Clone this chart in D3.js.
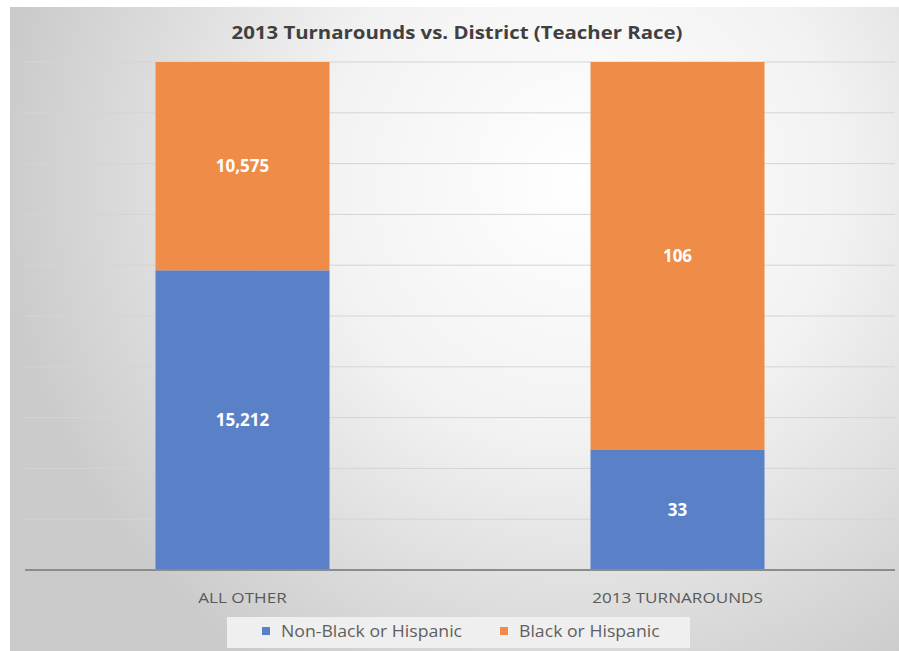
<!DOCTYPE html>
<html><head><meta charset="utf-8">
<script src="https://cdn.jsdelivr.net/npm/d3@7"></script>
<style>body{margin:0;background:#fff}svg{display:block}</style>
</head><body><svg id="c" width="899" height="651"></svg>
<script>
const title = "2013 Turnarounds vs. District (Teacher Race)";
const categories = ["ALL OTHER", "2013 TURNAROUNDS"];
const seriesNames = ["Non-Black or Hispanic", "Black or Hispanic"];
const nonBlackHispanic = [15212, 33];
const blackHispanic = [10575, 106];
const gridTicks = [0, 0.1, 0.2, 0.3, 0.4, 0.5, 0.6, 0.7, 0.8, 0.9, 1];
const colors = ["#5A80C8", "#EE8C48"];

const svg = d3.select("#c");
const defs = svg.append("defs");
const rg = defs.append("radialGradient").attr("id","bg")
  .attr("gradientUnits","userSpaceOnUse").attr("cx",580).attr("cy",180).attr("r",580);
rg.append("stop").attr("offset","0").attr("stop-color","#ffffff");
rg.append("stop").attr("offset","0.45").attr("stop-color","#f2f2f2");
rg.append("stop").attr("offset","1").attr("stop-color","#cbcbcb");

svg.append("rect").attr("x",10).attr("y",7).attr("width",889).attr("height",644).attr("fill","url(#bg)");

const font = "'Open Sans', Lato, sans-serif";
svg.append("text").attr("x",457).attr("y",39).attr("text-anchor","middle")
  .attr("font-family",font).attr("font-weight","bold").attr("font-size",18)
  .attr("textLength",451).attr("lengthAdjust","spacingAndGlyphs")
  .attr("fill","#404040").text(title);

const plot = {x0:25, x1:895, y0:62, y1:570};
const x = d3.scaleBand().domain(categories).range([plot.x0, plot.x1]).paddingInner(0.6).paddingOuter(0.3);
const y = d3.scaleLinear().domain([0,1]).range([plot.y1, plot.y0]);

svg.append("g").selectAll("line").data(gridTicks.slice(1)).join("line")
  .attr("x1",plot.x0).attr("x2",plot.x1).attr("y1",d=>y(d)).attr("y2",d=>y(d))
  .attr("stroke","#d4d4d4").attr("stroke-width",1);

const rows = categories.map((c,i)=>({cat:c, s0:nonBlackHispanic[i], s1:blackHispanic[i]}));
const stack = d3.stack().keys(["s0","s1"]).offset(d3.stackOffsetExpand);
const layers = stack(rows);

layers.forEach((layer,li)=>{
  const g = svg.append("g");
  g.selectAll("rect").data(layer).join("rect")
    .attr("x",d=>x(d.data.cat)).attr("width",x.bandwidth())
    .attr("y",d=>y(d[1])).attr("height",d=>y(d[0])-y(d[1]))
    .attr("fill",colors[li]);
  g.selectAll("text").data(layer).join("text")
    .attr("x",d=>x(d.data.cat)+x.bandwidth()/2)
    .attr("y",d=>(y(d[0])+y(d[1]))/2+6)
    .attr("text-anchor","middle").attr("font-family",font).attr("font-weight","bold")
    .attr("font-size",17).attr("fill","#ffffff")
    .text(d=>d3.format(",")(d.data[li===0?"s0":"s1"]));
});

svg.append("line").attr("x1",plot.x0).attr("x2",plot.x1).attr("y1",plot.y1).attr("y2",plot.y1)
  .attr("stroke","#8c8c8c").attr("stroke-width",2);

svg.append("g").selectAll("text").data(categories).join("text")
  .attr("x",d=>x(d)+x.bandwidth()/2).attr("y",603).attr("text-anchor","middle")
  .attr("font-family",font).attr("font-size",15).attr("fill","#595959").text(d=>d)
  .each(function(){ const w=this.getComputedTextLength(); d3.select(this).attr("textLength",w*1.14).attr("lengthAdjust","spacingAndGlyphs"); });

// legend
svg.append("rect").attr("x",227).attr("y",617).attr("width",463).attr("height",31).attr("fill","#efefef");
const legX = [262, 500];
seriesNames.forEach((n,i)=>{
  svg.append("rect").attr("x",legX[i]).attr("y",627).attr("width",8).attr("height",8).attr("fill",colors[i]);
  svg.append("text").attr("x",legX[i]+19).attr("y",637).attr("font-family",font)
    .attr("font-size",16.5).attr("fill","#5f5f5f").text(n)
    .each(function(){ const w=this.getComputedTextLength(); d3.select(this).attr("textLength",w*1.07).attr("lengthAdjust","spacingAndGlyphs"); });
});
</script></body></html>
